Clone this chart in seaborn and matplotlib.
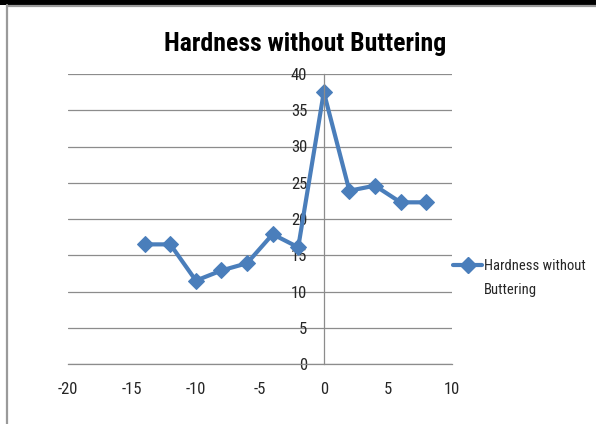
import matplotlib
matplotlib.use("Agg")
import matplotlib.pyplot as plt
from matplotlib import font_manager
from matplotlib.lines import Line2D
from matplotlib.patches import Rectangle
import seaborn as sns
import pandas as pd

# Hardness readings across the weld (distance from fusion line)
distance = [-14, -12, -10, -8, -6, -4, -2, 0, 2, 4, 6, 8]
hardness = [16.5, 16.5, 11.5, 12.9, 13.9, 17.9, 16.1, 37.5, 23.9, 24.6, 22.3, 22.3]
series_name = "Hardness without Buttering"
title_text = "Hardness without Buttering"
x_ticks = [-20, -15, -10, -5, 0, 5, 10]
y_ticks = [0, 5, 10, 15, 20, 25, 30, 35, 40]

df = pd.DataFrame({"distance": distance, "hardness": hardness})

sns.set_style("white")

installed = {f.name for f in font_manager.fontManager.ttflist}
narrow = [n for n in ("Liberation Sans Narrow", "Roboto Condensed", "Open Sans Condensed")
          if n in installed]
family = narrow[0] if narrow else "Lato"
plt.rcParams["font.family"] = [family, "DejaVu Sans"]

W, H = 596, 424
fig = plt.figure(figsize=(W / 100, H / 100), dpi=100)
ax = fig.add_axes([68 / W, 1 - 364 / H, 383.7 / W, 290 / H])

blue = "#4a7ebb"
grid_c = "#8c8c8c"
text_c = "#262626"

sns.lineplot(data=df, x="distance", y="hardness", ax=ax, color=blue,
             linewidth=3.0, marker="D", markersize=8.5, markeredgecolor=blue,
             label=series_name, legend=False)

ax.set_xlim(-20, 10)
ax.set_ylim(0, 40)
ax.set_xticks(x_ticks)
ax.set_yticks(y_ticks)
ax.set_xticklabels([str(v) for v in x_ticks])
ax.set_yticklabels([str(v) for v in y_ticks])
ax.set_xlabel("")
ax.set_ylabel("")

ax.yaxis.grid(True, color=grid_c, linewidth=0.9)
ax.xaxis.grid(False)
ax.set_axisbelow(True)

for s in ("top", "right"):
    ax.spines[s].set_visible(False)
ax.spines["left"].set_position(("data", 0))
for s in ("left", "bottom"):
    ax.spines[s].set_color(grid_c)
    ax.spines[s].set_linewidth(0.9)

ax.tick_params(axis="y", direction="out", length=5, width=0.9, color=grid_c,
               pad=7, labelsize=12, labelcolor=text_c)
ax.tick_params(axis="x", direction="out", length=6, width=0.9, color=grid_c,
               pad=7, labelsize=12, labelcolor=text_c)

fig.text(305 / W, 1 - 44 / H, title_text, ha="center", va="center",
         fontsize=18.5, fontweight="bold", color="#000000")

# Legend entry at the right of the plot
lx0, lx1, ly = 453 / W, 482 / W, 1 - 265 / H
fig.add_artist(Line2D([lx0, lx1], [ly, ly], transform=fig.transFigure,
                      color=blue, linewidth=3.0))
fig.add_artist(Line2D([(lx0 + lx1) / 2], [ly], transform=fig.transFigure,
                      color=blue, marker="D", markersize=8, linestyle="none"))
fig.text(484 / W, 1 - 266 / H, "Hardness without", ha="left", va="center",
         fontsize=10.5, color=text_c)
fig.text(484 / W, 1 - 290 / H, "Buttering", ha="left", va="center",
         fontsize=10.5, color=text_c)

# Page frame: black band on top, grey rules along top and left
fig.add_artist(Rectangle((0, 1 - 5 / H), 1, 5 / H, transform=fig.transFigure,
                         facecolor="black", edgecolor="none"))
fig.add_artist(Line2D([7 / W, 1], [1 - 6 / H, 1 - 6 / H], transform=fig.transFigure,
                      color="#9a9a9a", linewidth=1.6))
fig.add_artist(Line2D([7.5 / W, 7.5 / W], [0, 1 - 5 / H], transform=fig.transFigure,
                      color="#9a9a9a", linewidth=1.6))

fig.savefig("out.png", dpi=100)
